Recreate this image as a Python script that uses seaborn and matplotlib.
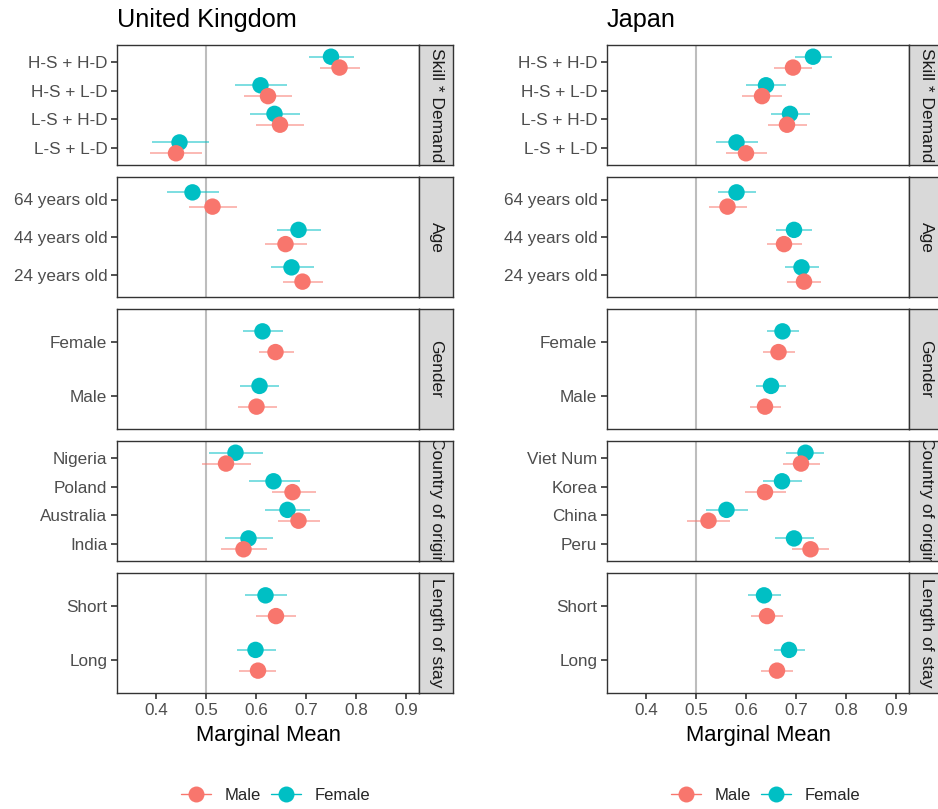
import pandas as pd
import numpy as np
import seaborn as sns
import matplotlib.pyplot as plt
from matplotlib.lines import Line2D

# data
attributes = ["Skill * Demand", "Age", "Gender", "Country of origin", "Length of stay"]

uk_levels = [["H-S + H-D", "H-S + L-D", "L-S + H-D", "L-S + L-D"],
             ["64 years old", "44 years old", "24 years old"],
             ["Female", "Male"],
             ["Nigeria", "Poland", "Australia", "India"],
             ["Short", "Long"]]
jp_levels = [["H-S + H-D", "H-S + L-D", "L-S + H-D", "L-S + L-D"],
             ["64 years old", "44 years old", "24 years old"],
             ["Female", "Male"],
             ["Viet Num", "Korea", "China", "Peru"],
             ["Short", "Long"]]

uk_female_est = [0.750, 0.609, 0.637, 0.447, 0.473, 0.685, 0.671, 0.613, 0.607, 0.559, 0.635, 0.663, 0.585, 0.619, 0.599]
uk_female_lo = [0.705, 0.557, 0.588, 0.391, 0.421, 0.642, 0.629, 0.573, 0.567, 0.505, 0.585, 0.618, 0.537, 0.577, 0.561]
uk_female_hi = [0.795, 0.661, 0.687, 0.505, 0.525, 0.729, 0.715, 0.654, 0.646, 0.613, 0.687, 0.708, 0.633, 0.661, 0.640]
uk_male_est = [0.767, 0.624, 0.648, 0.440, 0.513, 0.659, 0.693, 0.639, 0.601, 0.540, 0.673, 0.685, 0.575, 0.640, 0.604]
uk_male_lo = [0.728, 0.575, 0.599, 0.387, 0.465, 0.617, 0.653, 0.605, 0.563, 0.491, 0.632, 0.643, 0.529, 0.599, 0.565]
uk_male_hi = [0.808, 0.672, 0.696, 0.492, 0.561, 0.701, 0.733, 0.675, 0.641, 0.589, 0.719, 0.728, 0.622, 0.679, 0.640]

jp_female_est = [0.734, 0.640, 0.688, 0.581, 0.581, 0.696, 0.711, 0.673, 0.650, 0.719, 0.672, 0.561, 0.696, 0.636, 0.686]
jp_female_lo = [0.698, 0.600, 0.650, 0.540, 0.544, 0.660, 0.677, 0.642, 0.620, 0.680, 0.634, 0.520, 0.657, 0.604, 0.656]
jp_female_hi = [0.772, 0.680, 0.727, 0.624, 0.619, 0.731, 0.746, 0.705, 0.680, 0.756, 0.711, 0.603, 0.736, 0.669, 0.717]
jp_male_est = [0.694, 0.632, 0.682, 0.600, 0.563, 0.676, 0.716, 0.665, 0.638, 0.710, 0.638, 0.525, 0.729, 0.642, 0.662]
jp_male_lo = [0.656, 0.592, 0.644, 0.559, 0.525, 0.642, 0.682, 0.634, 0.608, 0.673, 0.598, 0.481, 0.692, 0.609, 0.630]
jp_male_hi = [0.732, 0.672, 0.722, 0.641, 0.602, 0.711, 0.749, 0.697, 0.669, 0.748, 0.679, 0.568, 0.766, 0.674, 0.693]

x_ticks = [0.4, 0.5, 0.6, 0.7, 0.8, 0.9]
palette = {"Male": "#F8766D", "Female": "#00BFC4"}


def build(levels, f_est, f_lo, f_hi, m_est, m_lo, m_hi):
    rows = []
    k = 0
    for attr, levs in zip(attributes, levels):
        for i, lev in enumerate(levs):
            rows.append([attr, lev, i, "Female", f_est[k], f_lo[k], f_hi[k]])
            rows.append([attr, lev, i, "Male", m_est[k], m_lo[k], m_hi[k]])
            k += 1
    return pd.DataFrame(rows, columns=["attr", "level", "idx", "gender", "est", "lo", "hi"])


uk = build(uk_levels, uk_female_est, uk_female_lo, uk_female_hi, uk_male_est, uk_male_lo, uk_male_hi)
jp = build(jp_levels, jp_female_est, jp_female_lo, jp_female_hi, jp_male_est, jp_male_lo, jp_male_hi)
for d in (uk, jp):
    d["ypos"] = d["idx"] + np.where(d["gender"] == "Female", -0.19, 0.19)

sns.set_theme(style="white")
plt.rcParams['font.family'] = ['Liberation Sans', 'DejaVu Sans']

W, H = 938, 809
fig = plt.figure(figsize=(W / 100, H / 100), dpi=100)


def px_axes(x0, y0, x1, y1):
    return fig.add_axes([x0 / W, 1 - y1 / H, (x1 - x0) / W, (y1 - y0) / H])


row_tops = [45, 177, 309, 441, 573]
panel_h = 120
columns = [("United Kingdom", uk, uk_levels, 117, 419),
           ("Japan", jp, jp_levels, 607, 909)]

for title, data, levels, x0, x1 in columns:
    fig.text(x0 / W, 1 - 20 / H, title, fontsize=18.2, va="center", ha="left", color="black")
    for r, attr in enumerate(attributes):
        top = row_tops[r]
        ax = px_axes(x0, top, x1, top + panel_h)
        sub = data[data["attr"] == attr]
        n = len(levels[r])
        ax.axvline(0.5, color="#BDBDBD", lw=1.5, zorder=1)
        for g in ["Male", "Female"]:
            s = sub[sub["gender"] == g]
            ax.hlines(s["ypos"], s["lo"], s["hi"], colors=palette[g], alpha=0.65, lw=1.1, zorder=2)
        sns.scatterplot(data=sub, x="est", y="ypos", hue="gender", palette=palette,
                        s=140, linewidth=0, legend=False, ax=ax, zorder=3)
        ax.set_xlim(0.322, 0.926)
        ax.set_ylim(n - 1 + 0.6, -0.6)
        ax.set_yticks(range(n))
        ax.set_yticklabels(levels[r])
        ax.set_ylabel("")
        ax.set_xlabel("")
        ax.tick_params(axis="y", length=4, width=1.2, color="#333333", labelcolor="#4D4D4D",
                       labelsize=12.3, left=True, pad=3)
        if r == len(attributes) - 1:
            ax.set_xticks(x_ticks)
            ax.set_xticklabels([f"{t:.1f}" for t in x_ticks])
            ax.tick_params(axis="x", length=4, width=1.2, color="#333333", labelcolor="#4D4D4D",
                           labelsize=12.3, bottom=True, pad=3)
        else:
            ax.set_xticks([])
        for sp in ax.spines.values():
            sp.set_color("#333333")
            sp.set_linewidth(1.0)

        st = px_axes(x1, top, x1 + 34, top + panel_h)
        st.set_facecolor("#D9D9D9")
        st.set_xticks([])
        st.set_yticks([])
        for sp in st.spines.values():
            sp.set_color("#333333")
            sp.set_linewidth(1.0)
        st.text(0.5, 0.5, attr, rotation=-90, ha="center", va="center", fontsize=12.5,
                color="#1A1A1A", transform=st.transAxes, clip_on=True)

    fig.text((x0 + x1) / 2 / W, 1 - 735 / H, "Marginal Mean", fontsize=15.8, ha="center",
             va="center", color="black")

    handles = [Line2D([0], [0], color=palette[g], marker="o", markersize=11.5, lw=1.0,
                      markeredgewidth=0) for g in ["Male", "Female"]]
    fig.legend(handles, ["Male", "Female"], loc="center", ncol=2, frameon=False,
               bbox_to_anchor=((x0 + x1) / 2 / W + 0.008, 1 - 795 / H), fontsize=12,
               handlelength=1.8, columnspacing=0.6, handletextpad=0.8)

fig.savefig("out.png", dpi=100)
